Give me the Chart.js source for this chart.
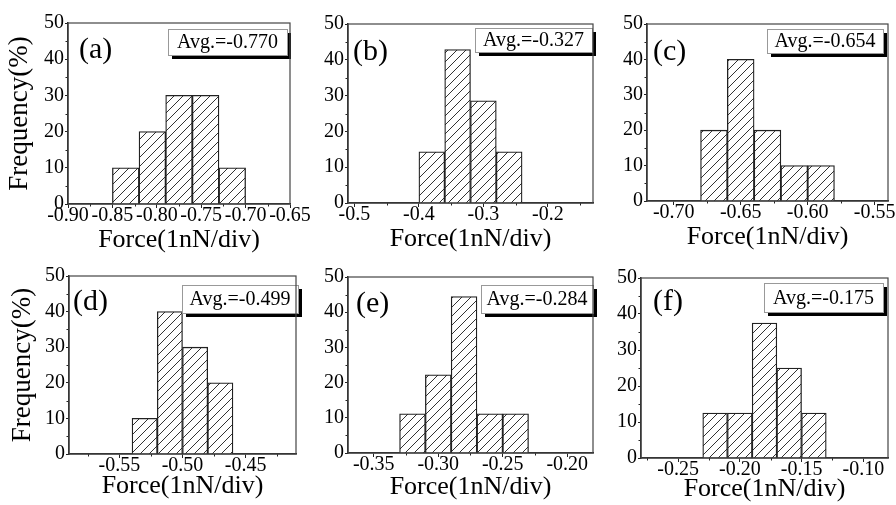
<!DOCTYPE html>
<html>
<head>
<meta charset="utf-8">
<script src="https://cdn.jsdelivr.net/npm/chart.js@4.4.1/dist/chart.umd.min.js"></script>
<style>
  html, body { margin: 0; padding: 0; background: #fff; }
  #wrap { position: relative; width: 896px; height: 505px; overflow: hidden; background: #fff; }
  #wrap canvas { position: absolute; }
</style>
</head>
<body>
<div id="wrap">
  <canvas id="chart_a"></canvas>
  <canvas id="chart_b"></canvas>
  <canvas id="chart_c"></canvas>
  <canvas id="chart_d"></canvas>
  <canvas id="chart_e"></canvas>
  <canvas id="chart_f"></canvas>
</div>
<script>
// bin centres (force, nN) and frequency (%) for each panel
const force_a = [-0.835, -0.805, -0.775, -0.745, -0.715];
const freq_a = [10, 20, 30, 30, 10];
const force_b = [-0.38, -0.34, -0.30, -0.26];
const freq_b = [14.29, 42.86, 28.57, 14.29];
const force_c = [-0.67, -0.65, -0.63, -0.61, -0.59];
const freq_c = [20, 40, 20, 10, 10];
const force_d = [-0.53, -0.51, -0.49, -0.47];
const freq_d = [10, 40, 30, 20];
const force_e = [-0.32, -0.30, -0.28, -0.26, -0.24];
const freq_e = [11.11, 22.22, 44.44, 11.11, 11.11];
const force_f = [-0.22, -0.20, -0.18, -0.16, -0.14];
const freq_f = [12.5, 12.5, 37.5, 25, 12.5];

// x tick labels (major) and minor tick positions
const xticks_a = [-0.90, -0.85, -0.80, -0.75, -0.70, -0.65];
const xminor_a = [-0.875, -0.825, -0.775, -0.725, -0.675];
const xticks_b = [-0.5, -0.4, -0.3, -0.2];
const xminor_b = [-0.45, -0.35, -0.25, -0.15];
const xticks_c = [-0.70, -0.65, -0.60, -0.55];
const xminor_c = [-0.675, -0.625, -0.575];
const xticks_d = [-0.55, -0.50, -0.45];
const xminor_d = [-0.575, -0.525, -0.475, -0.425];
const xticks_e = [-0.35, -0.30, -0.25, -0.20];
const xminor_e = [-0.325, -0.275, -0.225];
const xticks_f = [-0.25, -0.20, -0.15, -0.10];
const xminor_f = [-0.275, -0.225, -0.175, -0.125];

const yticks = [0, 10, 20, 30, 40, 50];
const yminor = [5, 15, 25, 35, 45];

const letters = ["(a)", "(b)", "(c)", "(d)", "(e)", "(f)"];
const averages = ["Avg.=-0.770", "Avg.=-0.327", "Avg.=-0.654", "Avg.=-0.499", "Avg.=-0.284", "Avg.=-0.175"];

const FONT = "'Liberation Serif', 'Times New Roman', serif";

// canvas placement on the page and plot rectangle inside it (local px)
const panels = [
  { id: "chart_a", force: force_a, freq: freq_a, xticks: xticks_a, xminor: xminor_a, min: -0.90, max: -0.65, dec: 2,
    pos: [0, 0, 335, 262], plot: [68, 23, 290, 204], ytitle: true, yTitlePad: 4, xTitlePad: 6,
    letter: [11, 35], box: [100, 6, 119, 26] },
  { id: "chart_b", force: force_b, freq: freq_b, xticks: xticks_b, xminor: xminor_b, min: -0.51, max: -0.13, dec: 1,
    pos: [300, 0, 320, 262], plot: [48, 24, 293, 203], ytitle: false, xTitlePad: 7,
    letter: [5, 36], box: [127, 4, 117, 24] },
  { id: "chart_c", force: force_c, freq: freq_c, xticks: xticks_c, xminor: xminor_c, min: -0.72, max: -0.54, dec: 2,
    pos: [600, 0, 296, 262], plot: [47, 24, 288, 201], ytitle: false, xTitlePad: 9,
    letter: [6, 36], box: [120, 5, 116, 24] },
  { id: "chart_d", force: force_d, freq: freq_d, xticks: xticks_d, xminor: xminor_d, min: -0.59, max: -0.41, dec: 2,
    pos: [0, 252, 335, 253], plot: [69, 24, 296, 202], ytitle: true, yTitlePad: 7, xTitlePad: 3,
    letter: [4, 34], box: [113, 9, 116, 28] },
  { id: "chart_e", force: force_e, freq: freq_e, xticks: xticks_e, xminor: xminor_e, min: -0.37, max: -0.18, dec: 2,
    pos: [300, 252, 320, 253], plot: [48, 25, 293, 201], ytitle: false, xTitlePad: 2,
    letter: [8, 35], box: [133, 8, 112, 28] },
  { id: "chart_f", force: force_f, freq: freq_f, xticks: xticks_f, xminor: xminor_f, min: -0.28, max: -0.08, dec: 2,
    pos: [600, 252, 296, 253], plot: [41, 26, 288, 206], ytitle: false, xTitlePad: 0,
    letter: [12, 32], box: [123, 5, 119, 29] }
];

function makeHatch(ctx) {
  const tile = document.createElement("canvas");
  tile.width = 9; tile.height = 9;
  const g = tile.getContext("2d");
  g.fillStyle = "#fff";
  g.fillRect(0, 0, 9, 9);
  g.strokeStyle = "#333";
  g.lineWidth = 1;
  g.beginPath();
  g.moveTo(-1, 10); g.lineTo(10, -1);
  g.moveTo(-1, 1); g.lineTo(1, -1);
  g.moveTo(8, 10); g.lineTo(10, 8);
  g.stroke();
  return ctx.createPattern(tile, "repeat");
}

// frame, minor ticks, panel letter and the "Avg." box
const panelDecor = {
  id: "panelDecor",
  afterDraw(chart, args, opts) {
    const { ctx, chartArea: a } = chart;
    const xs = chart.scales.x, ys = chart.scales.y;
    ctx.save();

    ctx.strokeStyle = "#222";
    ctx.lineWidth = 1;
    ctx.beginPath();
    opts.xminor.forEach(v => {
      const p = Math.round(xs.getPixelForValue(v)) + 0.5;
      ctx.moveTo(p, a.bottom); ctx.lineTo(p, a.bottom + 2.5);
    });
    yminor.forEach(v => {
      const p = Math.round(ys.getPixelForValue(v)) + 0.5;
      ctx.moveTo(a.left, p); ctx.lineTo(a.left - 2.5, p);
    });
    ctx.stroke();

    ctx.fillStyle = "#000";
    ctx.font = "30px " + FONT;
    ctx.textBaseline = "alphabetic";
    ctx.textAlign = "left";
    ctx.fillText(opts.letter, a.left + opts.letterPos[0], a.top + opts.letterPos[1]);

    const [dx, dy, w, h] = opts.box;
    const bx = a.left + dx, by = a.top + dy;
    ctx.fillStyle = "#000";
    ctx.fillRect(bx + 4, by + 4, w, h);
    ctx.fillStyle = "#fff";
    ctx.fillRect(bx, by, w, h);
    ctx.strokeStyle = "#999";
    ctx.lineWidth = 1;
    ctx.strokeRect(bx + 0.5, by + 0.5, w, h);
    ctx.fillStyle = "#000";
    ctx.font = "20px " + FONT;
    ctx.textAlign = "center";
    ctx.textBaseline = "middle";
    ctx.fillText(opts.avg, bx + w / 2, by + h / 2 + 1);

    ctx.strokeStyle = "#444";
    ctx.lineWidth = 1.2;
    ctx.strokeRect(a.left, a.top, a.right - a.left, a.bottom - a.top);
    ctx.restore();
  }
};

panels.forEach((p, i) => {
  const canvas = document.getElementById(p.id);
  const [left, top, width, height] = p.pos;
  const [pl, pt, pr, pb] = p.plot;
  canvas.width = width;
  canvas.height = height;
  canvas.style.left = left + "px";
  canvas.style.top = top + "px";
  const hatch = makeHatch(canvas.getContext("2d"));

  new Chart(canvas, {
    type: "bar",
    data: {
      datasets: [
        {
          data: p.force.map((x, k) => ({ x: x, y: p.freq[k] })),
          backgroundColor: hatch,
          borderColor: "#222",
          borderWidth: 1.3,
          barPercentage: 1,
          categoryPercentage: 1
        }
      ]
    },
    options: {
      responsive: false,
      animation: false,
      devicePixelRatio: 1,
      layout: { padding: { left: 0, top: pt, right: width - pr, bottom: 0 } },
      plugins: {
        legend: { display: false },
        tooltip: { enabled: false },
        panelDecor: { xminor: p.xminor, letter: letters[i], letterPos: p.letter, avg: averages[i], box: p.box }
      },
      scales: {
        x: {
          type: "linear",
          min: p.min,
          max: p.max,
          offset: false,
          afterBuildTicks: s => { s.ticks = p.xticks.map(v => ({ value: v })); },
          afterFit: s => { s.height = height - pb; },
          grid: { drawOnChartArea: false, drawTicks: true, tickLength: 4, color: "#222", offset: false },
          border: { display: true, color: "#222", width: 1.5 },
          ticks: {
            font: { family: FONT, size: 20 },
            color: "#000",
            padding: -4,
            maxRotation: 0,
            autoSkip: false,
            callback: v => v.toFixed(p.dec)
          },
          title: {
            display: true,
            text: "Force(1nN/div)",
            font: { family: FONT, size: 26 },
            color: "#000",
            padding: { top: 0, bottom: p.xTitlePad }
          }
        },
        y: {
          min: 0,
          max: 50,
          afterBuildTicks: s => { s.ticks = yticks.map(v => ({ value: v })); },
          afterFit: s => { s.width = pl; },
          grid: { drawOnChartArea: false, drawTicks: true, tickLength: 3, color: "#222" },
          border: { display: true, color: "#222", width: 1.5 },
          ticks: { font: { family: FONT, size: 20 }, color: "#000", padding: 1 },
          title: {
            display: p.ytitle,
            text: "Frequency(%)",
            font: { family: FONT, size: 27 },
            color: "#000",
            padding: { top: p.yTitlePad || 0, bottom: 0 }
          }
        }
      }
    },
    plugins: [panelDecor]
  });
});
</script>
</body>
</html>
